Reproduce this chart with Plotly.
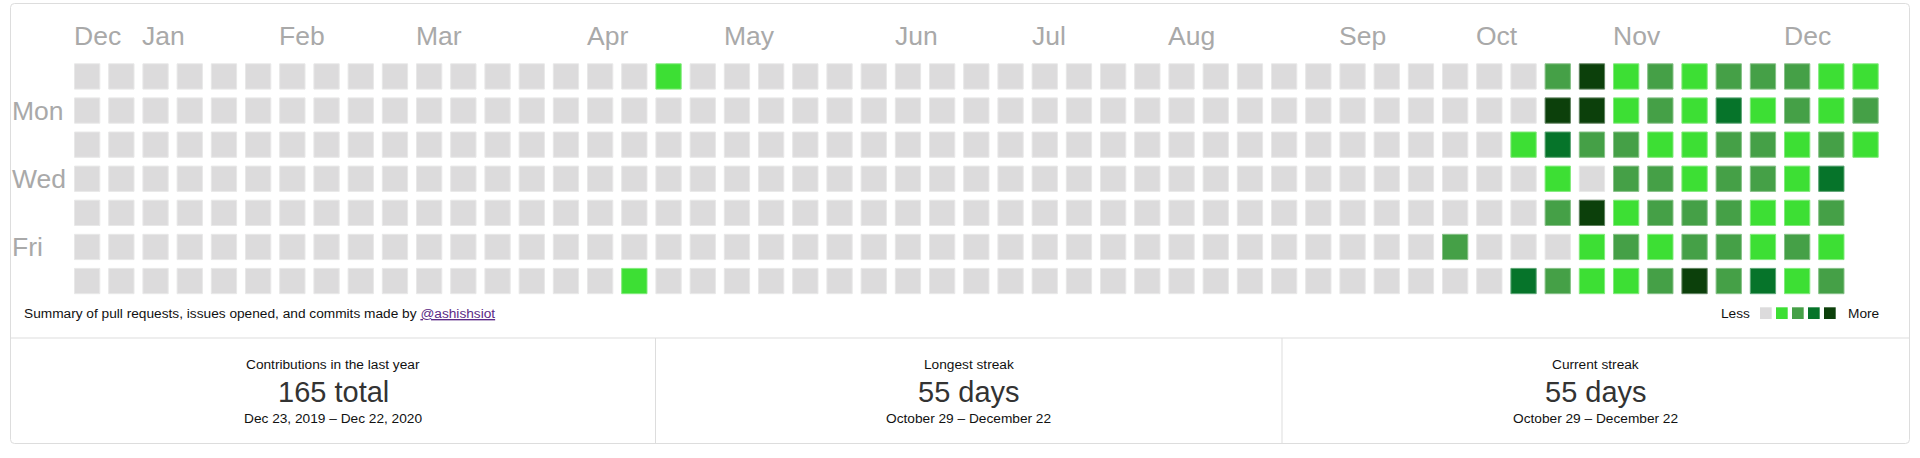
import datetime as dt
import plotly.graph_objects as go

# ---------------- data ----------------
first_sunday = "2019-12-22"      # Sunday of the first calendar column
last_day = "2020-12-22"
day_labels = ["Mon", "Wed", "Fri"]
day_label_rows = [1, 3, 5]
month_labels = ["Dec", "Jan", "Feb", "Mar", "Apr", "May", "Jun",
                "Jul", "Aug", "Sep", "Oct", "Nov", "Dec"]
month_cols = [0, 2, 6, 10, 15, 19, 24, 28, 32, 37, 41, 45, 50]

active_dates = [
    "2020-04-18", "2020-04-19", "2020-10-02", "2020-10-13", "2020-10-17",
    "2020-10-18", "2020-10-19", "2020-10-20", "2020-10-21", "2020-10-22",
    "2020-10-24", "2020-10-25", "2020-10-26", "2020-10-27", "2020-10-29",
    "2020-10-30", "2020-10-31",
    "2020-11-01", "2020-11-02", "2020-11-03", "2020-11-04", "2020-11-05",
    "2020-11-06", "2020-11-07",
    "2020-11-08", "2020-11-09", "2020-11-10", "2020-11-11", "2020-11-12",
    "2020-11-13", "2020-11-14",
    "2020-11-15", "2020-11-16", "2020-11-17", "2020-11-18", "2020-11-19",
    "2020-11-20", "2020-11-21",
    "2020-11-22", "2020-11-23", "2020-11-24", "2020-11-25", "2020-11-26",
    "2020-11-27", "2020-11-28",
    "2020-11-29", "2020-11-30", "2020-12-01", "2020-12-02", "2020-12-03",
    "2020-12-04", "2020-12-05",
    "2020-12-06", "2020-12-07", "2020-12-08", "2020-12-09", "2020-12-10",
    "2020-12-11", "2020-12-12",
    "2020-12-13", "2020-12-14", "2020-12-15", "2020-12-16", "2020-12-17",
    "2020-12-18", "2020-12-19",
    "2020-12-20", "2020-12-21", "2020-12-22",
]
active_counts = [
    1, 1, 2, 1, 5,
    3, 7, 5, 1, 2,
    3, 7, 7, 2, 7,
    1, 1,
    1, 1, 3, 2, 1, 3, 1,
    2, 3, 1, 2, 3, 1, 2,
    1, 1, 1, 1, 3, 2, 7,
    3, 5, 2, 3, 2, 3, 2,
    3, 1, 2, 3, 1, 1, 5,
    2, 3, 1, 1, 1, 2, 1,
    1, 1, 3, 5, 2, 1, 3,
    1, 2, 1,
]
level_colors = ["#dcdbdc", "#3ddf34", "#45a047", "#06742a", "#0c400b"]
level_min_counts = [1, 2, 4, 6]   # minimum count for levels 1..4

stat_titles = ["Contributions in the last year", "Longest streak", "Current streak"]
stat_values = [f"{sum(active_counts)} total", "55 days", "55 days"]
stat_ranges = ["Dec 23, 2019 \u2013 Dec 22, 2020",
               "October 29 \u2013 December 22",
               "October 29 \u2013 December 22"]
username = "@ashishsiot"

# ---------------- layout constants (pixels) ----------------
W, H = 1920, 458
CELL = 26.3
PITCH_X, PITCH_Y = 34.2, 34.1
GRID_LEFT, GRID_TOP = 74.0, 63.3
FONT = "Liberation Sans, Arial, Helvetica, sans-serif"


def level_of(c):
    lvl = 0
    for i, m in enumerate(level_min_counts):
        if c >= m:
            lvl = i + 1
    return lvl


def lighten(hexcol, f):
    h = hexcol.lstrip("#")
    r, g, b = (int(h[i:i + 2], 16) for i in (0, 2, 4))
    r, g, b = (round(v + (255 - v) * f) for v in (r, g, b))
    return f"rgb({r},{g},{b})"


counts_by_date = dict(zip(active_dates, active_counts))
d0 = dt.date.fromisoformat(first_sunday)
d1 = dt.date.fromisoformat(last_day)
xs, ys, fills, lines, texts = [], [], [], [], []
d = d0
while d <= d1:
    n = (d - d0).days
    c = counts_by_date.get(d.isoformat(), 0)
    lvl = level_of(c)
    xs.append(n // 7)
    ys.append(n % 7)
    fills.append(level_colors[lvl])
    lines.append(lighten(level_colors[lvl], 0.35))
    texts.append(f"{c} contributions on {d.isoformat()}")
    d += dt.timedelta(days=1)

fig = go.Figure()
fig.add_trace(go.Scatter(
    x=xs, y=ys, mode="markers", text=texts, hoverinfo="text",
    marker=dict(symbol="square", size=CELL - 1, color=fills,
                line=dict(width=1, color=lines)),
    showlegend=False,
))

cx0 = GRID_LEFT + CELL / 2
cy0 = GRID_TOP + CELL / 2
x_range = [(0 - cx0) / PITCH_X, (W - cx0) / PITCH_X]
y_range = [(H - cy0) / PITCH_Y, (0 - cy0) / PITCH_Y]


def px(x):
    return x / W


def py(y):
    return 1 - y / H


ann = []
half_cell = (CELL / 2) / PITCH_X
for lab, col in zip(month_labels, month_cols):
    ann.append(dict(x=col - half_cell, y=py(36), xref="x", yref="paper",
                    text=lab, xanchor="left", yanchor="middle",
                    font=dict(family=FONT, size=26.5, color="#a9a9a9")))
for lab, row in zip(day_labels, day_label_rows):
    ann.append(dict(x=px(11.5), y=row, xref="paper", yref="y",
                    text=lab, xanchor="left", yanchor="middle",
                    font=dict(family=FONT, size=26.5, color="#a9a9a9")))

ann.append(dict(x=px(24), y=py(313), xref="paper", yref="paper",
                text="Summary of pull requests, issues opened, and commits made by "
                     f"<span style='color:#5b2a86;text-decoration:underline'>{username}</span>",
                xanchor="left", yanchor="middle",
                font=dict(family=FONT, size=13.7, color="#111111")))
ann.append(dict(x=px(1749.5), y=py(313), xref="paper", yref="paper", text="Less",
                xanchor="right", yanchor="middle",
                font=dict(family=FONT, size=13.7, color="#111111")))
ann.append(dict(x=px(1847.5), y=py(313), xref="paper", yref="paper", text="More",
                xanchor="left", yanchor="middle",
                font=dict(family=FONT, size=13.7, color="#111111")))

stat_centers = [333, 968.5, 1595.5]
for cxp, t, v, r in zip(stat_centers, stat_titles, stat_values, stat_ranges):
    ann.append(dict(x=px(cxp), y=py(364.5), xref="paper", yref="paper", text=t,
                    xanchor="center", yanchor="middle",
                    font=dict(family=FONT, size=13.7, color="#111111")))
    ann.append(dict(x=px(cxp), y=py(392), xref="paper", yref="paper", text=v,
                    xanchor="center", yanchor="middle",
                    font=dict(family=FONT, size=29, color="#333333")))
    ann.append(dict(x=px(cxp), y=py(418.5), xref="paper", yref="paper", text=r,
                    xanchor="center", yanchor="middle",
                    font=dict(family=FONT, size=13.7, color="#111111")))
for a in ann:
    a.update(showarrow=False, borderpad=0, borderwidth=0)

shapes = []
# outer rounded border
L, T, R, B, rad = 10.5, 3.5, 1909.5, 443.5, 4
path = (f"M {px(L + rad)},{py(T)} L {px(R - rad)},{py(T)} "
        f"Q {px(R)},{py(T)} {px(R)},{py(T + rad)} L {px(R)},{py(B - rad)} "
        f"Q {px(R)},{py(B)} {px(R - rad)},{py(B)} L {px(L + rad)},{py(B)} "
        f"Q {px(L)},{py(B)} {px(L)},{py(B - rad)} L {px(L)},{py(T + rad)} "
        f"Q {px(L)},{py(T)} {px(L + rad)},{py(T)} Z")
shapes.append(dict(type="path", path=path, xref="paper", yref="paper",
                   line=dict(color="#dddddd", width=1)))
shapes.append(dict(type="line", xref="paper", yref="paper",
                   x0=px(L), x1=px(R), y0=py(338), y1=py(338),
                   line=dict(color="#dddddd", width=1)))
for xv in (655.5, 1282):
    shapes.append(dict(type="line", xref="paper", yref="paper",
                       x0=px(xv), x1=px(xv), y0=py(338), y1=py(B),
                       line=dict(color="#dddddd", width=1)))
for i, colr in enumerate(level_colors):
    x0 = 1760 + 16 * i
    shapes.append(dict(type="rect", xref="paper", yref="paper",
                       x0=px(x0), x1=px(x0 + 11.7), y0=py(307.3), y1=py(319),
                       fillcolor=colr, line=dict(width=0)))

fig.update_layout(
    width=W, height=H, margin=dict(l=0, r=0, t=0, b=0),
    paper_bgcolor="white", plot_bgcolor="white",
    xaxis=dict(range=x_range, visible=False, fixedrange=True),
    yaxis=dict(range=y_range, visible=False, fixedrange=True),
    annotations=ann, shapes=shapes, font=dict(family=FONT),
)
fig.write_html("out.html",
               config={"displayModeBar": False},
               post_script="document.body.style.margin='0';"
                           "document.body.style.overflow='hidden';")
